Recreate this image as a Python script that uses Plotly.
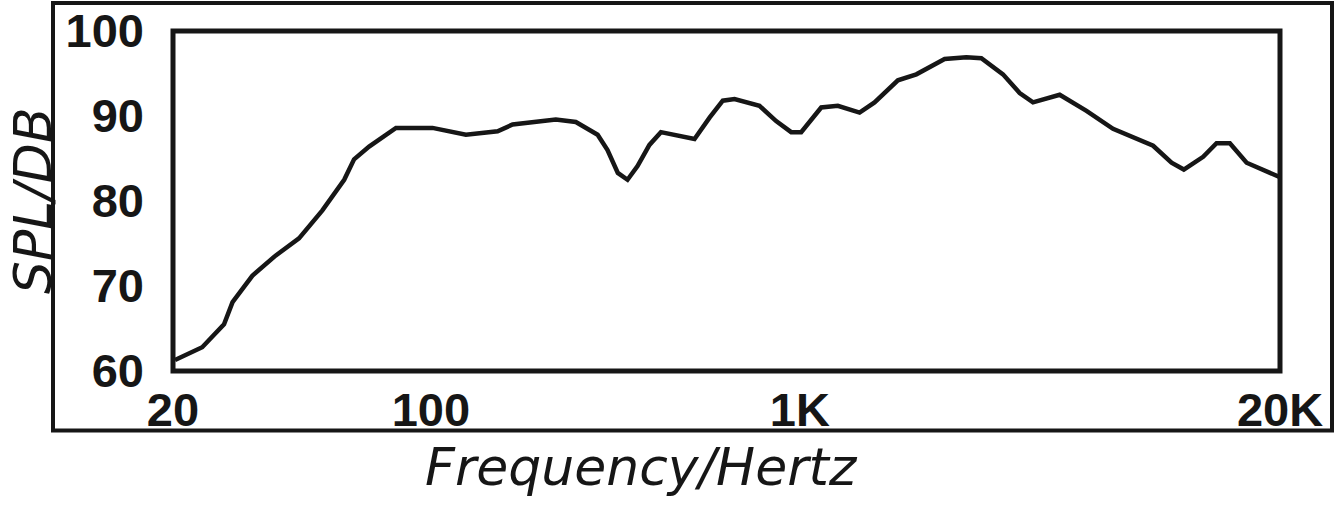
import plotly.graph_objects as go

# Frequency response
freq_hz = [20.25, 24.0, 27.5, 29.0, 32.8, 38.0, 43.9, 50.8, 58.2, 61.9, 68.0, 80.4,
           101, 124.4, 151.6, 166.5, 218, 247, 283, 301, 321, 341, 363, 391, 420,
           518, 569, 618, 665, 777, 862, 947, 1008, 1142, 1267, 1451, 1593, 1843,
           2068, 2467, 2825, 3102, 3551, 3940, 4282, 5058, 5978, 7056, 9062, 10164,
           10975, 12382, 13460, 14628, 16238, 20000]
spl_db = [61.3, 62.8, 65.5, 68.1, 71.2, 73.6, 75.6, 78.9, 82.5, 84.9, 86.4, 88.6,
          88.6, 87.8, 88.2, 89.0, 89.6, 89.3, 87.8, 86.0, 83.3, 82.5, 84.1, 86.6, 88.1,
          87.3, 89.8, 91.8, 92.0, 91.2, 89.4, 88.1, 88.1, 91.0, 91.2, 90.4, 91.6, 94.2,
          94.9, 96.7, 96.9, 96.8, 94.9, 92.7, 91.6, 92.5, 90.6, 88.5, 86.5, 84.5,
          83.7, 85.2, 86.8, 86.8, 84.5, 82.8]

x_tick_vals = [20, 100, 1000, 20000]
x_tick_text = ["20", "100", "1K", "20K"]
y_tick_vals = [60, 70, 80, 90, 100]
y_tick_text = ["60", "70", "80", "90", "100"]

x_title = "Frequency/Hertz"
y_title = "SPL/DB"

INK = "#161616"
tick_font = dict(family="Liberation Sans, Arial, sans-serif", size=47, color=INK, weight="bold")
title_font = dict(family="DejaVu Sans, sans-serif", size=52, color=INK, style="italic")
ytitle_font = dict(family="DejaVu Sans, sans-serif", size=52, color=INK, style="italic")

fig = go.Figure()
fig.add_trace(go.Scatter(x=freq_hz, y=spl_db, mode="lines",
                         line=dict(color=INK, width=4.5), hoverinfo="x+y",
                         showlegend=False, cliponaxis=True))

W, H = 1335, 511
L, R, T, B = 173, 55, 31, 140
pw, ph = W - L - R, H - T - B

def px(xp):
    return (xp - L) / pw

def py(yp):
    return (H - B - yp) / ph

fig.update_layout(
    width=W, height=H,
    margin=dict(l=L, r=R, t=T, b=B, pad=0, autoexpand=False),
    paper_bgcolor="white", plot_bgcolor="white",
    xaxis=dict(type="log", range=[1.30103, 4.30103], tickvals=x_tick_vals,
               ticktext=x_tick_text, tickfont=tick_font, showgrid=False,
               zeroline=False, showline=False, ticks="", ticklabelstandoff=7,
               automargin=False),
    yaxis=dict(range=[60, 100], tickvals=y_tick_vals, ticktext=y_tick_text,
               tickfont=tick_font, showgrid=False, zeroline=False, showline=False,
               ticks="", ticklabelstandoff=28, automargin=False),
    shapes=[
        dict(type="rect", xref="paper", yref="paper", x0=0, y0=0, x1=1, y1=1,
             line=dict(color=INK, width=5), layer="above"),
        dict(type="rect", xref="paper", yref="paper",
             x0=px(53), x1=px(1332), y0=py(430.5), y1=py(3),
             line=dict(color=INK, width=4), layer="above"),
    ],
    annotations=[
        dict(text=x_title, xref="paper", yref="paper", x=px(641), y=py(467),
             xanchor="center", yanchor="middle", showarrow=False, font=title_font),
        dict(text=y_title, xref="paper", yref="paper", x=px(33), y=py(201),
             xanchor="center", yanchor="middle", showarrow=False, textangle=-90,
             font=ytitle_font),
    ],
)

fig.write_html("out.html", config={"displayModeBar": False},
               post_script="document.body.style.margin='0';document.body.style.padding='0';")
